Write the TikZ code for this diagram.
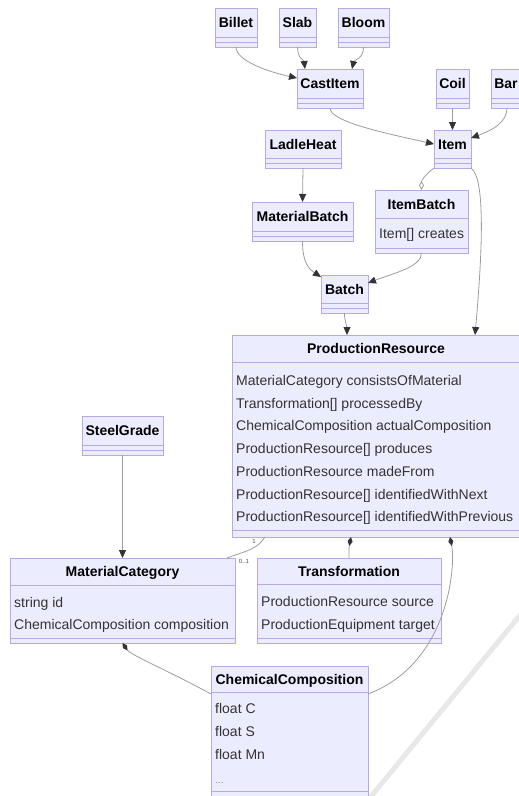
\documentclass[tikz,border=0pt]{standalone}
\usepackage{fontspec}
\setmainfont{Liberation Sans}
\usetikzlibrary{calc,arrows.meta}

\definecolor{clsfill}{HTML}{ECECFF}
\definecolor{clsline}{HTML}{B9A7EA}
\definecolor{linkgray}{HTML}{9C9C9C}
\definecolor{headgray}{HTML}{333333}
\definecolor{attrtext}{HTML}{333333}
\definecolor{markgray}{HTML}{E8E8E8}

% class box: name, left, top, right, bottom, first separator, second separator, title
\newcommand{\umlclass}[8]{%
  \pgfmathsetmacro\clsw{#4-#2}%
  \pgfmathsetmacro\clsh{#5-#3}%
  \node[clsbox, minimum width=\clsw pt, minimum height=\clsh pt] (#1) at (#2,#3) {};
  \draw[clssep] (#2,#6) -- (#4,#6);
  \draw[clssep] (#2,#7) -- (#4,#7);
  \node[clstitle] (#1-title) at ({(#2+#4)/2},{(#3+#6)/2}) {#8};
}
% attribute line: node name, x, y, text
\newcommand{\umlattr}[4]{\node[clsattr] (#1) at (#2,#3) {#4};}

\begin{document}
\begin{tikzpicture}[x=1pt,y=-1pt,
  clsbox/.style={draw=clsline, fill=clsfill, line width=0.9pt, rectangle,
    inner sep=0pt, outer sep=0pt, anchor=north west},
  clssep/.style={draw=clsline, line width=0.9pt},
  clstitle/.style={font=\fontsize{14}{16}\selectfont\bfseries, text=black,
    inner sep=0pt, text height=12pt, text depth=2pt},
  clsattr/.style={font=\fontsize{14}{16}\selectfont, text=attrtext,
    inner sep=0pt, anchor=west, text height=12pt, text depth=2pt},
  mult/.style={font=\fontsize{6}{7}\selectfont, text=black!70, inner sep=0pt},
  link/.style={draw=linkgray, line width=0.8pt},
  dep/.style={link, -{Triangle[length=8pt,width=7pt,color=headgray]}},
  comp/.style={link, {Diamond[length=9pt,width=5pt,color=headgray]}-},
  aggr/.style={link, -{Diamond[open,length=9pt,width=5pt,color=linkgray,fill=white]}},
]
\clip (0,0) rectangle (519,796);

% faint diagonal stroke across the lower right corner
\draw[markgray, line width=5pt] (521,614) -- (368,800);

% ---------- classes ----------
\umlclass{billet}{215}{8}{257}{47}{37}{42}{Billet}
\umlclass{slab}{279}{8}{316}{47}{37}{42}{Slab}
\umlclass{bloom}{338}{8}{389}{47}{37}{42}{Bloom}
\umlclass{castitem}{297}{69}{363}{108}{98}{103}{CastItem}
\umlclass{coil}{436}{69}{469}{108}{98}{103}{Coil}
\umlclass{bar}{491}{69}{521}{108}{98}{103}{Bar}
\umlclass{ladleheat}{265}{130}{341}{168}{158}{163}{LadleHeat}
\umlclass{item}{434}{130}{471}{168}{158}{163}{Item}
\umlclass{materialbatch}{252}{202}{353}{241}{231}{236}{MaterialBatch}
\umlclass{itembatch}{375}{190}{468}{253}{218}{248}{ItemBatch}
\umlattr{itembatch-a1}{379}{233}{Item[] creates}
\umlclass{batch}{321}{275}{368}{313}{303}{308}{Batch}

\umlclass{prodres}{232}{335}{520}{537}{362}{530}{ProductionResource}
\umlattr{prodres-a1}{236}{380}{MaterialCategory consistsOfMaterial}
\umlattr{prodres-a2}{236}{403}{Transformation[] processedBy}
\umlattr{prodres-a3}{236}{425}{ChemicalComposition actualComposition}
\umlattr{prodres-a4}{236}{448}{ProductionResource[] produces}
\umlattr{prodres-a5}{236}{471}{ProductionResource madeFrom}
\umlattr{prodres-a6}{236}{494}{ProductionResource[] identifiedWithNext}
\umlattr{prodres-a7}{236}{516}{ProductionResource[] identifiedWithPrevious}

\umlclass{steelgrade}{82}{416}{163}{455}{445}{450}{SteelGrade}

\umlclass{matcat}{10}{558}{235}{643}{585}{638}{MaterialCategory}
\umlattr{matcat-a1}{14}{602}{string id}
\umlattr{matcat-a2}{14}{624}{ChemicalComposition composition}

\umlclass{transf}{257}{558}{441}{643}{584}{638}{Transformation}
\umlattr{transf-a1}{261}{601}{ProductionResource source}
\umlattr{transf-a2}{261}{624}{ProductionEquipment target}

\umlclass{chemcomp}{211}{666}{368}{800}{692}{791}{ChemicalComposition}
\umlattr{chemcomp-a1}{215}{708}{float C}
\umlattr{chemcomp-a2}{215}{731}{float S}
\umlattr{chemcomp-a3}{215}{754}{float Mn}
\node[clsattr, text=black!45, font=\fontsize{10}{11}\selectfont] (chemcomp-a4) at (215,778) {...};

% ---------- relations ----------
\draw[dep] (billet.south) .. controls +(0,14) and +(-28,-6) .. ($(castitem.north west)+(0,9)$);
\draw[dep] (slab.south) .. controls +(0,12) and +(-1,-9) .. ($(castitem.north west)+(8,0)$);
\draw[dep] (bloom.south) .. controls +(0,12) and +(2,-9) .. ($(castitem.north east)+(-11,0)$);
\draw[dep] (castitem.south) .. controls +(0,14) and +(-45,-10) .. ($(item.north west)+(0,14)$);
\draw[dep] (coil.south) -- (item.north);
\draw[dep] ($(bar.south west)+(16,0)$) .. controls +(0,14) and +(22,-8) .. ($(item.north east)+(0,8)$);

\draw[aggr] (item.south west) .. controls +(-10,8) and +(0,-10) .. (itembatch.north);
\draw[dep] (item.south east) .. controls +(14,10) and +(8,-90) .. ($(prodres.north west)+(243,0)$);

\draw[dep] (ladleheat.south) -- (materialbatch.north);
\draw[dep] (materialbatch.south) .. controls +(0,22) and +(-12,-8) .. ($(batch.north west)+(0,2)$);
\draw[dep] (itembatch.south) .. controls +(0,14) and +(26,-10) .. ($(batch.north east)+(0,8)$);
\draw[dep] (batch.south) .. controls +(0,8) and +(0,-8) .. ($(prodres.north west)+(115,0)$);

\draw[dep] (steelgrade.south) -- (matcat.north);

\draw[link] ($(prodres.south west)+(33,0)$) .. controls +(-8,12) and +(22,-8) .. ($(matcat.north east)+(-8,0)$);
\node[mult] (mult-one) at (254,541) {1};
\node[mult] (mult-opt) at (244,561) {0..1};

\draw[comp] ($(prodres.south west)+(119,0)$) .. controls +(-2,10) and +(0,-8) .. (transf.north);
\draw[comp] ($(prodres.south west)+(218,0)$) .. controls +(6,30) and +(80,-30) .. ($(chemcomp.north east)+(0,28)$);
\draw[comp] (matcat.south) .. controls +(8,12) and +(-40,-22) .. ($(chemcomp.north west)+(0,28)$);
\end{tikzpicture}
\end{document}
